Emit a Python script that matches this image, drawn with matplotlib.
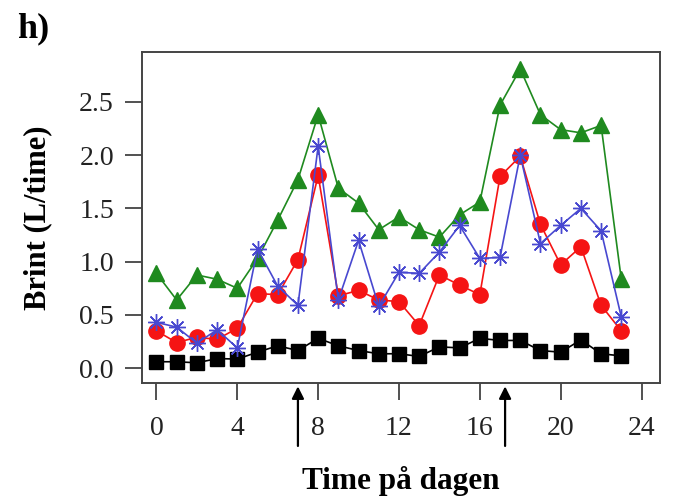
import matplotlib.pyplot as plt

hours = list(range(24))
green = [0.89, 0.64, 0.875, 0.835, 0.75, 1.03, 1.39, 1.77, 2.38, 1.69, 1.55, 1.30,
         1.42, 1.30, 1.23, 1.44, 1.56, 2.47, 2.81, 2.38, 2.24, 2.21, 2.28, 0.835]
red = [0.35, 0.24, 0.29, 0.27, 0.375, 0.70, 0.69, 1.02, 1.81, 0.68, 0.73, 0.64,
       0.625, 0.40, 0.875, 0.78, 0.69, 1.80, 1.99, 1.35, 0.97, 1.14, 0.59, 0.35]
blue = [0.43, 0.385, 0.235, 0.36, 0.19, 1.12, 0.77, 0.59, 2.085, 0.64, 1.20, 0.58,
        0.90, 0.89, 1.09, 1.34, 1.03, 1.04, 2.00, 1.17, 1.34, 1.50, 1.29, 0.48]
black = [0.06, 0.06, 0.05, 0.09, 0.085, 0.15, 0.21, 0.165, 0.28, 0.21, 0.165, 0.135,
         0.135, 0.11, 0.20, 0.19, 0.28, 0.26, 0.26, 0.165, 0.15, 0.265, 0.135, 0.115]
arrow_hours = [7.0, 17.25]
x_ticks = [0, 4, 8, 12, 16, 20, 24]
y_ticks = [0.0, 0.5, 1.0, 1.5, 2.0, 2.5]

plt.rcParams['font.family'] = 'Liberation Serif'

fig = plt.figure(figsize=(6.78, 5.04), dpi=100)
ax = fig.add_axes([0.209, 0.240, 0.764, 0.657])

ax.plot(hours, green, color='#1f8a1f', marker='^', markersize=12, linewidth=1.2)
ax.plot(hours, black, color='black', marker='s', markersize=9.5, linewidth=1.2)
ax.plot(hours, red, color='#f51414', marker='o', markersize=11, linewidth=1.2)
ax.plot(hours, blue, color='#4848d0', marker=(8, 2, 0), markersize=12,
        markeredgewidth=1.0, linewidth=1.2)

ax.set_xlim(-0.73, 24.9)
ax.set_ylim(-0.14, 2.97)
ax.set_xticks(x_ticks)
ax.set_yticks(y_ticks)
ax.set_yticklabels(['%.1f' % v for v in y_ticks])
ax.tick_params(direction='out', length=12, width=1.2, labelsize=20, colors='#333333')
ax.tick_params(axis='x', pad=12)
ax.tick_params(axis='y', pad=8)
ax.tick_params(labelcolor='#222222')
for s in ax.spines.values():
    s.set_linewidth(1.4)
    s.set_color('#444444')

ax.set_xlabel('Time på dagen', fontsize=22.5, fontweight='bold', va='center')
ax.set_ylabel('Brint (L/time)', fontsize=22, fontweight='bold', va='center')
ax.xaxis.set_label_coords(0.5, -0.296)
ax.yaxis.set_label_coords(-0.20, 0.5)

# arrows under the x axis
for h in arrow_hours:
    ax.annotate('', xy=(h, -0.01), xycoords=('data', 'axes fraction'),
                xytext=(h, -0.19), textcoords=('data', 'axes fraction'),
                arrowprops=dict(arrowstyle='-|>', color='black', lw=1.6,
                                mutation_scale=18, shrinkA=0, shrinkB=0),
                annotation_clip=False)

fig.text(0.025, 0.925, 'h)', fontsize=26, fontweight='bold')

fig.savefig('out.png', dpi=100)
